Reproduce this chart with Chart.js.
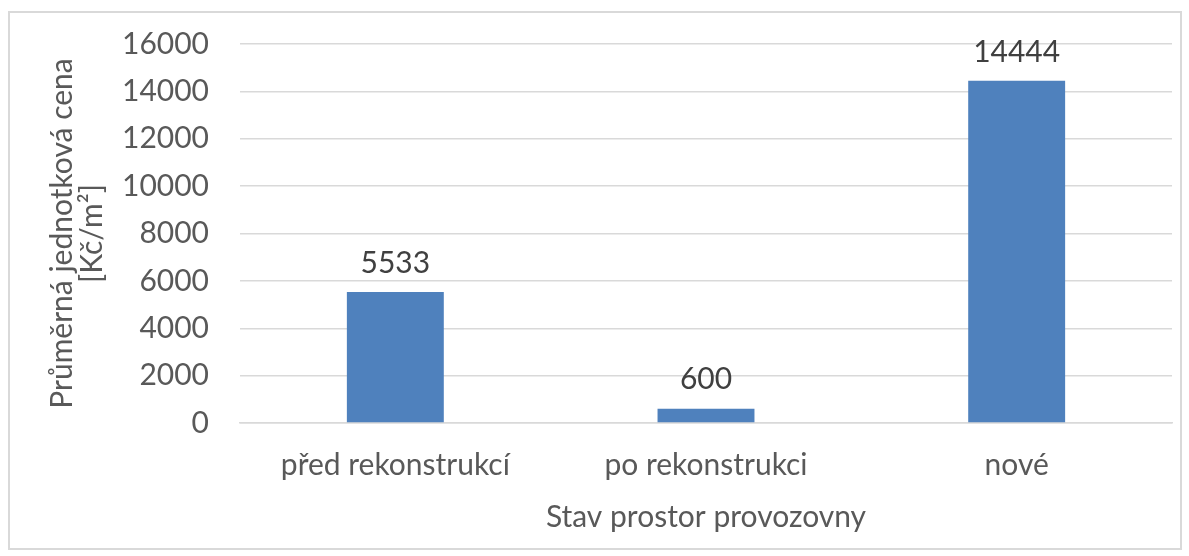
<!DOCTYPE html>
<html>
<head>
<meta charset="utf-8">
<script src="https://cdn.jsdelivr.net/npm/chart.js@4"></script>
<style>
  html, body { margin: 0; padding: 0; background: #fff; }
  #wrap { position: relative; width: 1189px; height: 556px; }
  #frame { position: absolute; left: 8px; top: 11px; width: 1170px; height: 535px; border: 2px solid #d9d9d9; }
  canvas { position: absolute; left: 0; top: 0; }
</style>
</head>
<body>
<div id="wrap">
  <div id="frame"></div>
  <canvas id="chart" width="1189" height="556"></canvas>
</div>
<script>
// kategorie a hodnoty
const categories = ['před rekonstrukcí', 'po rekonstrukci', 'nové'];
const prices = [5533, 600, 14444];
const yTicks = [0, 2000, 4000, 6000, 8000, 10000, 12000, 14000, 16000];

const fontFamily = 'Lato, "Open Sans", sans-serif';
const fontSize = 30;

// popisky hodnot nad sloupci
const valueLabels = {
    id: 'valueLabels',
    afterDatasetsDraw(chart) {
        const ctx = chart.ctx;
        const meta = chart.getDatasetMeta(0);
        ctx.save();
        ctx.font = fontSize + 'px ' + fontFamily;
        ctx.fillStyle = '#404040';
        ctx.textAlign = 'center';
        ctx.textBaseline = 'bottom';
        meta.data.forEach((bar, i) => {
            ctx.fillText(String(prices[i]), bar.x, bar.y - 14);
        });
        ctx.restore();
    }
};

new Chart(document.getElementById('chart'), {
    type: 'bar',
    data: {
        labels: categories,
        datasets: [{
            data: prices,
            backgroundColor: '#4f81bd',
            categoryPercentage: 1,
            barPercentage: 0.312
        }]
    },
    options: {
        responsive: false,
        animation: false,
        layout: { padding: { left: 47, right: 17, top: 44, bottom: 21 } },
        plugins: { legend: { display: false }, tooltip: { enabled: false } },
        scales: {
            x: {
                grid: { display: false },
                border: { color: '#d9d9d9', width: 1.5 },
                ticks: { color: '#595959', font: { family: fontFamily, size: fontSize }, padding: 16 },
                afterFit: axis => { axis.height = 112; },
                title: {
                    display: true,
                    text: 'Stav prostor provozovny',
                    color: '#595959',
                    font: { family: fontFamily, size: fontSize },
                    padding: 0
                }
            },
            y: {
                min: 0,
                max: 16000,
                afterBuildTicks: axis => { axis.ticks = yTicks.map(v => ({ value: v })); },
                afterFit: axis => {
                    axis.width = 193;
                    axis.paddingTop = 0;
                    axis.paddingBottom = 0;
                },
                grid: { color: '#d9d9d9', lineWidth: 1.5, drawTicks: false },
                border: { display: false },
                ticks: {
                    color: '#595959',
                    font: { family: fontFamily, size: fontSize },
                    padding: 31,
                    callback: v => String(v)
                },
                title: {
                    display: true,
                    text: ['Průměrná jednotková cena', '[Kč/m²]'],
                    color: '#595959',
                    font: { family: fontFamily, size: fontSize, lineHeight: 1.0 },
                    padding: 0
                }
            }
        }
    },
    plugins: [valueLabels]
});
</script>
</body>
</html>
